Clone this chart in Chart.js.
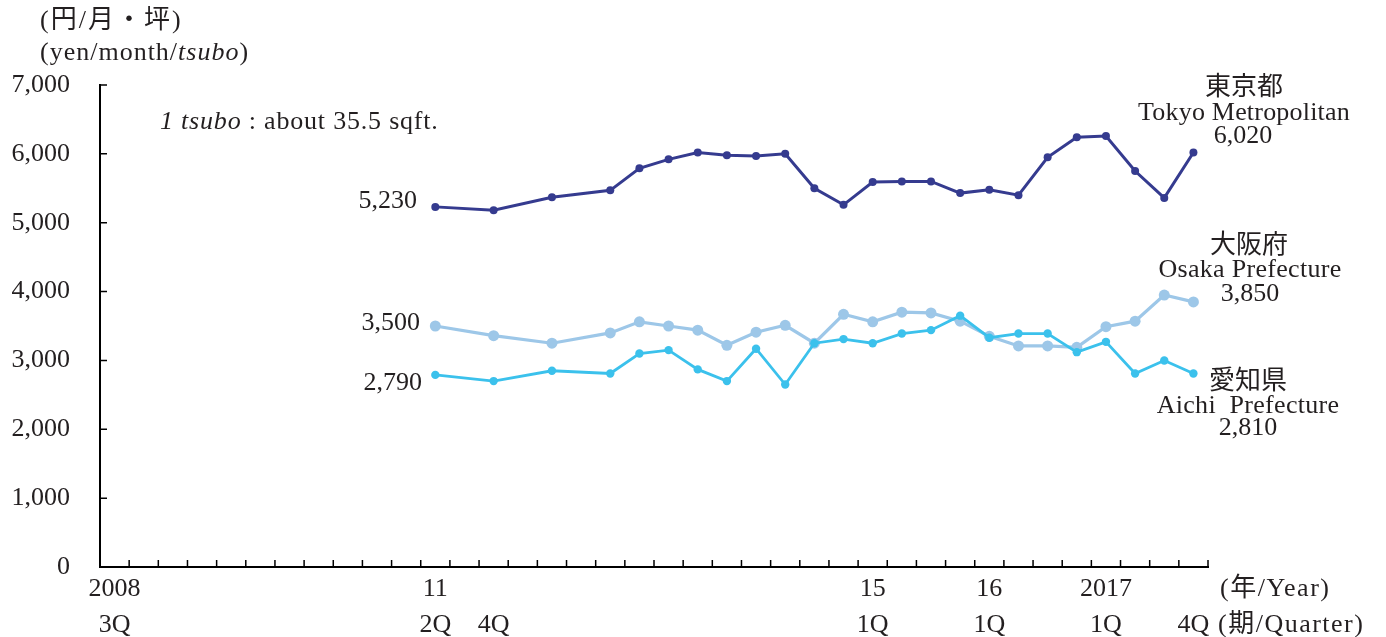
<!DOCTYPE html>
<html>
<head>
<meta charset="utf-8">
<script src="https://cdn.jsdelivr.net/npm/chart.js@4.4.0/dist/chart.umd.min.js"></script>
<style>
  html, body { margin: 0; padding: 0; background: #fff; }
  #wrap { width: 1386px; height: 637px; }
</style>
</head>
<body>
<div id="wrap"><canvas id="rentChart" width="1386" height="637"></canvas></div>
<script>
// quarters on the axis, 2008 3Q .. 2017 4Q
const quarters = [
  '2008-3Q', '2008-4Q',
  '2009-1Q', '2009-2Q', '2009-3Q', '2009-4Q',
  '2010-1Q', '2010-2Q', '2010-3Q', '2010-4Q',
  '2011-1Q', '2011-2Q', '2011-3Q', '2011-4Q',
  '2012-1Q', '2012-2Q', '2012-3Q', '2012-4Q',
  '2013-1Q', '2013-2Q', '2013-3Q', '2013-4Q',
  '2014-1Q', '2014-2Q', '2014-3Q', '2014-4Q',
  '2015-1Q', '2015-2Q', '2015-3Q', '2015-4Q',
  '2016-1Q', '2016-2Q', '2016-3Q', '2016-4Q',
  '2017-1Q', '2017-2Q', '2017-3Q', '2017-4Q'
];
const yearTicks = [
  '2008', '', '', '', '', '', '', '', '', '', '', '11', '', '', '', '', '', '', '',
  '', '', '', '', '', '', '', '15', '', '', '', '16', '', '', '', '2017', '', '', ''
];
const quarterTicks = [
  '3Q', '', '', '', '', '', '', '', '', '', '', '2Q', '', '4Q', '', '', '', '', '',
  '', '', '', '', '', '', '', '1Q', '', '', '', '1Q', '', '', '', '1Q', '', '', '4Q'
];

// quarters that have survey values
const dataQuarters = [
  '2011-2Q', '2011-4Q', '2012-2Q', '2012-4Q',
  '2013-1Q', '2013-2Q', '2013-3Q', '2013-4Q',
  '2014-1Q', '2014-2Q', '2014-3Q', '2014-4Q',
  '2015-1Q', '2015-2Q', '2015-3Q', '2015-4Q',
  '2016-1Q', '2016-2Q', '2016-3Q', '2016-4Q',
  '2017-1Q', '2017-2Q', '2017-3Q', '2017-4Q'
];
const tokyo = [5230, 5180, 5370, 5470, 5790, 5920, 6020, 5980, 5970, 6000, 5500, 5260,
               5590, 5600, 5600, 5430, 5480, 5400, 5950, 6240, 6260, 5750, 5360, 6020];
const osaka = [3500, 3360, 3250, 3400, 3560, 3500, 3440, 3220, 3410, 3510, 3250, 3670,
               3560, 3700, 3690, 3570, 3350, 3210, 3210, 3190, 3490, 3570, 3950, 3850];
const aichi = [2790, 2700, 2850, 2810, 3100, 3150, 2870, 2700, 3170, 2650, 3250, 3310,
               3250, 3390, 3440, 3650, 3330, 3390, 3390, 3120, 3270, 2810, 3000, 2810];

const SERIF = "'Liberation Serif', 'Noto Sans CJK JP', serif";
const TEXT = '#231f20';

function points(values) {
    return dataQuarters.map((q, i) => ({ x: q, y: values[i] }));
}

// text made of plain / italic pieces, with optional letter spacing
function drawRuns(ctx, parts, x, y, align, spacing) {
    const fontOf = it => (it ? 'italic ' : '') + '26px ' + SERIF;
    ctx.letterSpacing = (spacing || 0) + 'px';
    let total = 0;
    parts.forEach(([t, it]) => { ctx.font = fontOf(it); total += ctx.measureText(t).width; });
    let cx = align === 'center' ? x - total / 2 : align === 'right' ? x - total : x;
    ctx.textAlign = 'left';
    parts.forEach(([t, it]) => {
        ctx.font = fontOf(it);
        ctx.fillText(t, cx, y);
        cx += ctx.measureText(t).width;
    });
    ctx.letterSpacing = '0px';
}

const decorations = {
    id: 'decorations',
    afterDraw(chart) {
        const { ctx, chartArea: a, scales: { x, y } } = chart;
        ctx.save();

        // inward tick marks
        ctx.strokeStyle = '#000';
        ctx.lineWidth = 1.5;
        ctx.beginPath();
        y.ticks.forEach(t => {
            if (t.value === 0) return;
            const py = y.getPixelForValue(t.value);
            ctx.moveTo(a.left, py);
            ctx.lineTo(a.left + 7, py);
        });
        for (let i = 1; i <= quarters.length; i++) {
            const px = x.getPixelForValue(i - 0.5);
            ctx.moveTo(px, a.bottom);
            ctx.lineTo(px, a.bottom - 7);
        }
        ctx.stroke();

        ctx.fillStyle = TEXT;
        ctx.textBaseline = 'middle';

        drawRuns(ctx, [['(円/月・坪)', false]], 40, 21, 'left', 2);
        drawRuns(ctx, [['(yen/month/', false], ['tsubo', true], [')', false]], 40, 53, 'left', 1);
        drawRuns(ctx, [['1 tsubo', true], [' : about 35.5 sqft.', false]], 160, 122, 'left', 0.8);

        drawRuns(ctx, [['5,230', false]], 417, 201, 'right');
        drawRuns(ctx, [['3,500', false]], 420, 323, 'right');
        drawRuns(ctx, [['2,790', false]], 422, 383, 'right');

        drawRuns(ctx, [['東京都', false]], 1244, 88, 'center');
        drawRuns(ctx, [['Tokyo Metropolitan', false]], 1244, 113, 'center', 0.2);
        drawRuns(ctx, [['6,020', false]], 1243, 136, 'center');

        drawRuns(ctx, [['大阪府', false]], 1249, 246, 'center');
        drawRuns(ctx, [['Osaka Prefecture', false]], 1250, 270, 'center', 0.3);
        drawRuns(ctx, [['3,850', false]], 1250, 294, 'center');

        drawRuns(ctx, [['愛知県', false]], 1248, 382, 'center');
        drawRuns(ctx, [['Aichi  Prefecture', false]], 1248, 406, 'center', 0.3);
        drawRuns(ctx, [['2,810', false]], 1248, 428, 'center');

        drawRuns(ctx, [['(年/Year)', false]], 1220, 589, 'left', 1.5);
        drawRuns(ctx, [['(期/Quarter)', false]], 1218, 625, 'left', 1.5);

        ctx.restore();
    }
};

const ctx = document.getElementById('rentChart').getContext('2d');

new Chart(ctx, {
    type: 'line',
    data: {
        datasets: [
            {
                label: 'Tokyo Metropolitan',
                data: points(tokyo),
                borderColor: '#353b8f',
                backgroundColor: '#353b8f',
                borderWidth: 3,
                pointRadius: 4,
                pointBorderWidth: 0,
                tension: 0
            },
            {
                label: 'Aichi Prefecture',
                data: points(aichi),
                borderColor: '#3bc1ec',
                backgroundColor: '#3bc1ec',
                borderWidth: 2.8,
                pointRadius: 4.2,
                pointBorderWidth: 0,
                tension: 0
            },
            {
                label: 'Osaka Prefecture',
                data: points(osaka),
                borderColor: '#9dc7e8',
                backgroundColor: '#9dc7e8',
                borderWidth: 3.2,
                pointRadius: 5.5,
                pointBorderWidth: 0,
                tension: 0
            }
        ]
    },
    options: {
        responsive: false,
        animation: false,
        clip: false,
        layout: { padding: { top: 85, right: 178, left: 0, bottom: 0 } },
        plugins: {
            legend: { display: false },
            tooltip: { enabled: false }
        },
        scales: {
            x: {
                type: 'category',
                labels: quarters,
                offset: true,
                grid: { display: false, drawTicks: false },
                border: { color: '#000', width: 2 },
                ticks: {
                    autoSkip: false,
                    maxRotation: 0,
                    padding: 4,
                    color: TEXT,
                    font: { family: SERIF, size: 26, lineHeight: '36px' },
                    callback: (v, i) => [yearTicks[i], quarterTicks[i]]
                },
                afterFit: s => { s.height = 70; }
            },
            y: {
                min: 0,
                max: 7000,
                grid: { display: false, drawTicks: false },
                border: { color: '#000', width: 2 },
                ticks: {
                    stepSize: 1000,
                    padding: 30,
                    color: TEXT,
                    font: { family: SERIF, size: 26 },
                    callback: v => v.toLocaleString('en-US')
                },
                afterFit: s => { s.width = 100; }
            }
        }
    },
    plugins: [decorations]
});
</script>
</body>
</html>
